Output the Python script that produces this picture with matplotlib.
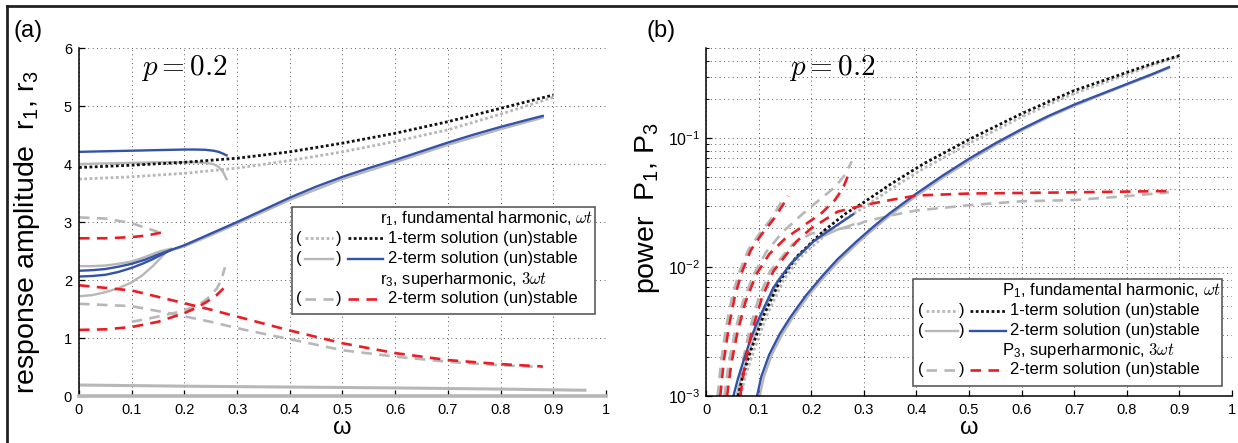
import numpy as np
import matplotlib
matplotlib.use('Agg')
import matplotlib.pyplot as plt
from matplotlib.lines import Line2D
from matplotlib.patches import Rectangle

plt.rcParams['font.family'] = ['Liberation Sans', 'DejaVu Sans']
plt.rcParams['mathtext.fontset'] = 'cm'

BLUE = '#3352a8'
RED = '#ec1c24'
GREY = '#b7b7b7'
BLACK = '#111111'

# ---- panel (a): response amplitudes r1, r3 ----
a_dot1_x = [0, 0.1, 0.2, 0.3, 0.4, 0.5, 0.6, 0.7, 0.8, 0.9]
a_dot1_y = [3.94, 3.98, 4.03, 4.10, 4.21, 4.36, 4.53, 4.73, 4.96, 5.19]
a_dot1u_x = [0, 0.1, 0.2, 0.3, 0.4, 0.5, 0.6, 0.7, 0.8, 0.9]
a_dot1u_y = [3.74, 3.78, 3.84, 3.93, 4.06, 4.21, 4.39, 4.59, 4.86, 5.15]

a_top_x = [0, 0.05, 0.1, 0.15, 0.2, 0.22, 0.24, 0.255, 0.265, 0.273, 0.28]
a_top_blue = [4.21, 4.22, 4.23, 4.24, 4.25, 4.25, 4.245, 4.23, 4.21, 4.18, 4.15]
a_top_grey = [4.00, 4.01, 4.02, 4.03, 4.03, 4.03, 4.02, 4.00, 3.95, 3.87, 3.74]

a_main_x = [0, 0.025, 0.05, 0.075, 0.1, 0.125, 0.15, 0.175, 0.2, 0.25, 0.3, 0.35, 0.4,
            0.45, 0.5, 0.55, 0.6, 0.65, 0.7, 0.75, 0.8, 0.85, 0.88]
a_main_blue = [2.16, 2.17, 2.19, 2.23, 2.28, 2.35, 2.44, 2.52, 2.60, 2.80, 3.00, 3.21, 3.42,
               3.61, 3.78, 3.93, 4.07, 4.22, 4.37, 4.51, 4.64, 4.76, 4.83]
a_branch_x = [0, 0.025, 0.05, 0.075, 0.1, 0.12, 0.14, 0.155, 0.175]
a_branch_blue = [2.06, 2.07, 2.09, 2.14, 2.21, 2.28, 2.36, 2.43, 2.52]
a_branch_grey = [2.24, 2.24, 2.25, 2.28, 2.32, 2.38, 2.45, 2.50, 2.54]
a_low_grey_x = [0, 0.025, 0.05, 0.075, 0.1, 0.12, 0.14, 0.155, 0.165]
a_low_grey_y = [1.72, 1.74, 1.79, 1.86, 1.96, 2.08, 2.24, 2.38, 2.48]
a_main_grey_x = [0.17, 0.2, 0.25, 0.3, 0.4, 0.5, 0.6, 0.7, 0.8, 0.88]
a_main_grey_y = [2.50, 2.58, 2.77, 2.97, 3.38, 3.74, 4.03, 4.33, 4.60, 4.80]

a_r3_up_grey_x = [0, 0.05, 0.1, 0.15]
a_r3_up_grey_y = [3.08, 3.06, 2.98, 2.83]
a_r3_up_red_x = [0, 0.05, 0.1, 0.13, 0.157]
a_r3_up_red_y = [2.72, 2.72, 2.74, 2.77, 2.82]
a_r3_dn_red_x = [0, 0.1, 0.15, 0.2, 0.25, 0.3, 0.4, 0.5, 0.6, 0.7, 0.8, 0.88]
a_r3_dn_red_y = [1.91, 1.82, 1.71, 1.60, 1.49, 1.37, 1.13, 0.91, 0.74, 0.62, 0.55, 0.51]
a_r3_dn_grey_x = [0, 0.1, 0.17, 0.25, 0.31, 0.4, 0.5, 0.6, 0.7, 0.8, 0.88]
a_r3_dn_grey_y = [1.59, 1.55, 1.43, 1.28, 1.15, 0.98, 0.79, 0.68, 0.59, 0.53, 0.50]
a_r3_rise_red_x = [0, 0.05, 0.1, 0.15, 0.2, 0.22, 0.24, 0.26, 0.278]
a_r3_rise_red_y = [1.14, 1.15, 1.19, 1.28, 1.43, 1.51, 1.61, 1.73, 1.89]
a_r3_rise_grey_x = [0.1, 0.14, 0.18, 0.21, 0.235, 0.25, 0.262, 0.27, 0.277]
a_r3_rise_grey_y = [1.28, 1.35, 1.43, 1.51, 1.62, 1.73, 1.86, 2.00, 2.22]

a_floor_x = [0, 0.2, 0.4, 0.6, 0.8, 0.96]
a_floor_y = [0.19, 0.17, 0.155, 0.14, 0.12, 0.10]
a_zero_x = [0, 1]
a_zero_y = [0.0, 0.0]

# ---- panel (b): power P1, P3 ----
b_dot1_x = [0.061, 0.07, 0.084, 0.109, 0.141, 0.172, 0.223, 0.267, 0.299, 0.35, 0.413,
            0.45, 0.5, 0.55, 0.6, 0.65, 0.7, 0.75, 0.8, 0.85, 0.9]
b_dot1_y = [0.001, 0.00145, 0.00219, 0.00417, 0.0079, 0.012, 0.019, 0.0263, 0.0316, 0.0437, 0.0631,
            0.0759, 0.0977, 0.123, 0.155, 0.191, 0.234, 0.275, 0.324, 0.380, 0.437]
b_dot1u_x = [0.066, 0.075, 0.09, 0.115, 0.147, 0.178, 0.23, 0.27, 0.3, 0.35, 0.413,
             0.45, 0.5, 0.55, 0.6, 0.65, 0.7, 0.75, 0.8, 0.85, 0.9]
b_dot1u_y = [0.001, 0.00145, 0.00219, 0.00417, 0.0079, 0.0118, 0.0182, 0.0245, 0.029, 0.040, 0.058,
             0.070, 0.091, 0.115, 0.146, 0.181, 0.222, 0.263, 0.312, 0.370, 0.430]

b_blue1_x = [0.052, 0.061, 0.071, 0.083, 0.096, 0.128, 0.16, 0.204, 0.236, 0.28]
b_blue1_y = [0.001, 0.00138, 0.00186, 0.00263, 0.00363, 0.00692, 0.0105, 0.0158, 0.0195, 0.0257]
b_grey1_x = [0.058, 0.068, 0.082, 0.105, 0.137, 0.17, 0.21, 0.25, 0.28]
b_grey1_y = [0.001, 0.00145, 0.00219, 0.00417, 0.0079, 0.0118, 0.0165, 0.0195, 0.0214]

b_blue2_x = [0.097, 0.105, 0.12, 0.14, 0.16, 0.19, 0.223, 0.25, 0.286, 0.32, 0.35, 0.4,
             0.45, 0.5, 0.55, 0.6, 0.65, 0.7, 0.75, 0.8, 0.85, 0.88]
b_blue2_y = [0.001, 0.00141, 0.00209, 0.00302, 0.00407, 0.00603, 0.00871, 0.0115, 0.0158, 0.0209,
             0.0263, 0.0372, 0.0513, 0.0692, 0.0912, 0.1175, 0.148, 0.182, 0.219, 0.263, 0.316, 0.355]
b_grey2_x = [0.102, 0.11, 0.125, 0.145, 0.165, 0.195, 0.228, 0.255, 0.29, 0.324, 0.354, 0.404,
             0.454, 0.504, 0.553, 0.603, 0.652, 0.702, 0.751, 0.8, 0.85, 0.88]
b_grey2_y = [0.001, 0.00141, 0.00209, 0.00302, 0.00407, 0.00603, 0.00871, 0.0114, 0.0156, 0.0206,
             0.026, 0.0366, 0.0505, 0.068, 0.0898, 0.116, 0.146, 0.179, 0.216, 0.259, 0.311, 0.350]

b_red1_x = [0.027, 0.034, 0.043, 0.055, 0.068, 0.085, 0.105, 0.128, 0.157]
b_red1_y = [0.001, 0.0019, 0.0034, 0.006, 0.0091, 0.0135, 0.0178, 0.0234, 0.0355]
b_grey3_x = [0.022, 0.029, 0.038, 0.05, 0.063, 0.08, 0.1, 0.123, 0.15]
b_grey3_y = [0.001, 0.0019, 0.0034, 0.006, 0.0091, 0.0135, 0.0178, 0.0234, 0.0355]

b_red2_x = [0.04, 0.048, 0.06, 0.075, 0.095, 0.12, 0.15, 0.185, 0.22, 0.245, 0.26, 0.272]
b_red2_y = [0.001, 0.00178, 0.00316, 0.00537, 0.0087, 0.0126, 0.0166, 0.0209, 0.0263,
            0.0331, 0.0407, 0.0537]
b_grey4_x = [0.035, 0.043, 0.055, 0.07, 0.09, 0.115, 0.145, 0.18, 0.215, 0.245, 0.265, 0.277]
b_grey4_y = [0.001, 0.00178, 0.00316, 0.00537, 0.0087, 0.0132, 0.0186, 0.0251, 0.0331,
             0.0417, 0.0525, 0.0661]

b_red3_x = [0.065, 0.075, 0.087, 0.106, 0.128, 0.172, 0.2, 0.223, 0.25, 0.3,
            0.35, 0.4, 0.5, 0.6, 0.7, 0.8, 0.88]
b_red3_y = [0.001, 0.00186, 0.00316, 0.00575, 0.0093, 0.0158, 0.020, 0.0229, 0.0269, 0.0302,
            0.0331, 0.0359, 0.0372, 0.0376, 0.038, 0.0385, 0.0389]
b_grey5_x = [0.06, 0.07, 0.082, 0.1, 0.122, 0.165, 0.2, 0.24, 0.276, 0.3,
             0.35, 0.4, 0.5, 0.6, 0.7, 0.8, 0.88]
b_grey5_y = [0.001, 0.00186, 0.00316, 0.00575, 0.00933, 0.0151, 0.0182, 0.0195, 0.0204, 0.0224,
             0.0251, 0.0275, 0.0302, 0.0324, 0.0331, 0.0355, 0.038]

x_ticks = [0, 0.1, 0.2, 0.3, 0.4, 0.5, 0.6, 0.7, 0.8, 0.9, 1]
x_tick_labels = ['0', '0.1', '0.2', '0.3', '0.4', '0.5', '0.6', '0.7', '0.8', '0.9', '1']
a_y_ticks = [0, 1, 2, 3, 4, 5, 6]

DOT = dict(linestyle=(0, (1.0, 0.9)), dash_capstyle='butt', linewidth=2.0)
DASH = dict(linestyle=(0, (4.0, 2.8)), dash_capstyle='butt', linewidth=1.9)
SOLID = dict(linestyle='-', linewidth=1.7)


def style_axes(ax):
    """ MATLAB-like look: box off, inward ticks, dotted grid. """
    for side in ('top', 'right'):
        ax.spines[side].set_visible(False)
    for side in ('left', 'bottom'):
        ax.spines[side].set_linewidth(1.1)
    ax.tick_params(which='both', direction='in', labelsize=10.5, pad=5)
    ax.tick_params(which='major', length=4, width=0.9)
    ax.tick_params(which='minor', length=2.5, width=0.7)
    ax.set_xlim(0, 1)
    ax.set_xticks(x_ticks)
    ax.set_xticklabels(x_tick_labels)
    ax.set_xlabel('ω', fontsize=17, labelpad=0)


def draw_legend(ax, box, rows, col):
    """ Hand-made legend with a grey (unstable) and coloured (stable) sample per row. """
    tr = ax.transAxes
    ax.add_patch(Rectangle((box[0], box[2]), box[1] - box[0], box[3] - box[2], transform=tr,
                           facecolor='white', edgecolor='0.3', linewidth=1.1, zorder=10))
    for y, kind, text in rows:
        if kind is None:
            ax.text(col['head'], y, text, transform=tr, fontsize=12, va='center', zorder=11)
            continue
        grey_style, colour, style = kind
        ax.text(col['open'], y, '(', transform=tr, fontsize=12, va='center', ha='center', zorder=11)
        ax.text(col['close'], y, ')', transform=tr, fontsize=12, va='center', ha='center', zorder=11)
        ax.add_line(Line2D(col['grey'], [y, y], transform=tr, color=GREY, zorder=11, **grey_style))
        ax.add_line(Line2D(col['main'], [y, y], transform=tr, color=colour, zorder=11, **style))
        ax.text(col['text'], y, text, transform=tr, fontsize=12, va='center', zorder=11)


fig = plt.figure(figsize=(12.38, 4.43), dpi=100)

# figure frame on top and left
fig.add_artist(Line2D([0.0057, 1.0], [0.9865, 0.9865], color='#222222', linewidth=2.0))
fig.add_artist(Line2D([0.0057, 0.0057], [0.0, 0.9865], color='#222222', linewidth=2.0))

ax1 = fig.add_axes([0.0638, 0.106, 0.4257, 0.7856])
ax2 = fig.add_axes([0.5703, 0.106, 0.4249, 0.7856])

# ---------- (a) ----------
style_axes(ax1)
ax1.set_ylim(0, 6)
ax1.set_yticks(a_y_ticks)
ax1.grid(True, which='major', linestyle=(0, (1, 3.5)), linewidth=0.7, color='0.35')

ax1.plot(a_dot1u_x, a_dot1u_y, color=GREY, **DOT)
ax1.plot(a_top_x, a_top_grey, color=GREY, **SOLID)
ax1.plot(a_branch_x, a_branch_grey, color=GREY, **SOLID)
ax1.plot(a_low_grey_x, a_low_grey_y, color=GREY, **SOLID)
ax1.plot(a_main_grey_x, a_main_grey_y, color=GREY, **SOLID)
ax1.plot(a_floor_x, a_floor_y, color=GREY, linewidth=2.2)
ax1.plot(a_zero_x, a_zero_y, color=GREY, linewidth=2.6, clip_on=False, zorder=3)
ax1.plot(a_r3_up_grey_x, a_r3_up_grey_y, color=GREY, **DASH)
ax1.plot(a_r3_dn_grey_x, a_r3_dn_grey_y, color=GREY, **DASH)
ax1.plot(a_r3_rise_grey_x, a_r3_rise_grey_y, color=GREY, **DASH)

ax1.plot(a_dot1_x, a_dot1_y, color=BLACK, **DOT)
ax1.plot(a_top_x, a_top_blue, color=BLUE, **SOLID)
ax1.plot(a_main_x, a_main_blue, color=BLUE, **SOLID)
ax1.plot(a_branch_x, a_branch_blue, color=BLUE, **SOLID)
ax1.plot(a_r3_up_red_x, a_r3_up_red_y, color=RED, **DASH)
ax1.plot(a_r3_dn_red_x, a_r3_dn_red_y, color=RED, **DASH)
ax1.plot(a_r3_rise_red_x, a_r3_rise_red_y, color=RED, **DASH)

ax1.text(0.2, 5.66, r'$p = 0.2$', fontsize=21, ha='center', va='center')
ax1.set_ylabel(r'response amplitude  r$\mathregular{_1}$, r$\mathregular{_3}$', fontsize=20.5)
ax1.yaxis.set_label_coords(-0.07, 0.47)
fig.text(0.011, 0.93, '(a)', fontsize=17, va='center')

draw_legend(ax1, (0.404, 0.979, 0.236, 0.544), [
    (0.511, None, r'r$\mathregular{_1}$, fundamental harmonic, $\omega t$'),
    (0.454, (DOT, BLACK, DOT), '1-term solution (un)stable'),
    (0.394, (SOLID, BLUE, SOLID), '2-term solution (un)stable'),
    (0.336, None, r'r$\mathregular{_3}$, superharmonic, $3\omega t$'),
    (0.279, (DASH, RED, DASH), '2-term solution (un)stable'),
], dict(head=0.571, open=0.417, grey=[0.429, 0.482], close=0.493, main=[0.510, 0.577], text=0.586))

# ---------- (b) ----------
style_axes(ax2)
ax2.set_yscale('log')
ax2.set_ylim(1e-3, 0.5)
ax2.tick_params(axis='y', labelsize=11.5, pad=4)
ax2.grid(True, which='both', linestyle=(0, (1, 3.5)), linewidth=0.7, color='0.35')

ax2.plot(b_dot1u_x, b_dot1u_y, color=GREY, **DOT)
ax2.plot(b_grey1_x, b_grey1_y, color=GREY, **SOLID)
ax2.plot(b_grey2_x, b_grey2_y, color=GREY, **SOLID)
ax2.plot(b_grey3_x, b_grey3_y, color=GREY, **DASH)
ax2.plot(b_grey4_x, b_grey4_y, color=GREY, **DASH)
ax2.plot(b_grey5_x, b_grey5_y, color=GREY, **DASH)

ax2.plot(b_dot1_x, b_dot1_y, color=BLACK, **DOT)
ax2.plot(b_blue1_x, b_blue1_y, color=BLUE, **SOLID)
ax2.plot(b_blue2_x, b_blue2_y, color=BLUE, **SOLID)
ax2.plot(b_red1_x, b_red1_y, color=RED, **DASH)
ax2.plot(b_red2_x, b_red2_y, color=RED, **DASH)
ax2.plot(b_red3_x, b_red3_y, color=RED, **DASH)

ax2.text(0.24, 0.35, r'$p = 0.2$', fontsize=21, ha='center', va='center')
ax2.set_ylabel(r'power  P$\mathregular{_1}$, P$\mathregular{_3}$', fontsize=20.5)
ax2.yaxis.set_label_coords(-0.083, 0.54)
fig.text(0.522, 0.93, '(b)', fontsize=17, va='center')

draw_legend(ax2, (0.394, 0.981, 0.029, 0.335), [
    (0.303, None, r'P$\mathregular{_1}$, fundamental harmonic, $\omega t$'),
    (0.245, (DOT, BLACK, DOT), '1-term solution (un)stable'),
    (0.188, (SOLID, BLUE, SOLID), '2-term solution (un)stable'),
    (0.130, None, r'P$\mathregular{_3}$, superharmonic, $3\omega t$'),
    (0.075, (DASH, RED, DASH), '2-term solution (un)stable'),
], dict(head=0.562, open=0.408, grey=[0.418, 0.479], close=0.486, main=[0.502, 0.570], text=0.578))

fig.savefig('out.png', dpi=100)
